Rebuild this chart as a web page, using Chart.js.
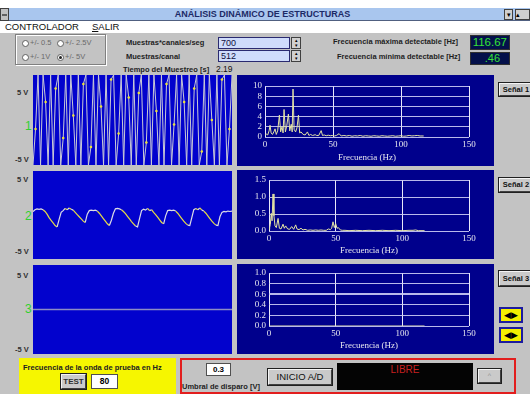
<!DOCTYPE html>
<html><head><meta charset="utf-8">
<script src="https://cdn.jsdelivr.net/npm/chart.js@4.4.1/dist/chart.umd.min.js"></script>
<style>
*{box-sizing:border-box}
body{margin:0;width:530px;height:394px;overflow:hidden;background:#c3c3c3;position:relative;font-family:'Liberation Sans',Arial,sans-serif;}
.a{position:absolute;white-space:nowrap}
.lbl{font-weight:bold;font-size:7.5px;color:#1e1e1e}
.vl{font-weight:bold;font-size:7.5px;color:#303030}
.num{font-size:12px;color:#30d030}
canvas{position:absolute;display:block}
.btn{position:absolute;background:#cacaca;border:1px solid;border-color:#f4f4f4 #404040 #404040 #f4f4f4;outline:1px solid #202020;text-align:center;white-space:nowrap;color:#101010}
.box{position:absolute;background:#fff;border:1px solid #505050;text-align:center;white-space:nowrap}
</style></head>
<body>
<div class="a" style="left:0;top:0;width:530px;height:8px;background:#fff"></div>
<div class="a" style="left:0;top:8px;width:530px;height:13px;background:#a9c6ee;border-bottom:1px solid #506080"></div>
<div class="a" style="left:0;top:8px;width:9px;height:13px;background:#c0c0c0;border:1px solid #404040"><div class="a" style="left:1px;top:5px;width:5px;height:2px;background:#606060"></div></div>
<div class="a" style="left:0;top:8px;width:525px;height:13px;line-height:13px;text-align:center;font-weight:bold;font-size:9px;color:#1c2a66">ANÁLISIS DINÁMICO DE ESTRUCTURAS</div>
<div class="a" style="left:504px;top:9px;width:9px;height:11px;background:#d0d0d0;border:1px solid #404040;font-size:7px;line-height:9px;text-align:center">▾</div>
<div class="a" style="left:515px;top:9px;width:15px;height:11px;background:#d0d0d0;border:1px solid #404040;font-size:7px;line-height:9px">▴</div>
<div class="a" style="left:0;top:21px;width:530px;height:12px;background:#fff"></div>
<div class="a" style="left:5px;top:21px;font-size:9.5px;line-height:12px;color:#101010">CONTROLADOR</div>
<div class="a" style="left:92px;top:21px;font-size:9.5px;line-height:12px;color:#101010"><u>S</u>ALIR</div>

<!-- radio group -->
<div class="a" style="left:15px;top:34px;width:91px;height:31px;border:1px solid #808080;box-shadow:inset 1px 1px 0 #fff,1px 1px 0 #fff"></div>
<div class="a" style="left:22px;top:40px;width:7px;height:7px;border-radius:50%;background:#fff;border:1px solid #606060"></div>
<div class="a" style="left:30px;top:38px;font-size:7.5px;color:#6a6a6a">+/- 0.5</div>
<div class="a" style="left:57px;top:40px;width:7px;height:7px;border-radius:50%;background:#fff;border:1px solid #606060"></div>
<div class="a" style="left:65px;top:38px;font-size:7.5px;color:#6a6a6a">+/- 2.5V</div>
<div class="a" style="left:22px;top:54px;width:7px;height:7px;border-radius:50%;background:#fff;border:1px solid #606060"></div>
<div class="a" style="left:30px;top:52px;font-size:7.5px;color:#6a6a6a">+/- 1V</div>
<div class="a" style="left:57px;top:54px;width:7px;height:7px;border-radius:50%;background:#fff;border:1px solid #606060"><div class="a" style="left:1px;top:1px;width:3px;height:3px;border-radius:50%;background:#202020"></div></div>
<div class="a" style="left:65px;top:52px;font-size:7.5px;color:#6a6a6a">+/- 5V</div>

<div class="a lbl" style="left:126px;top:38px">Muestras*canales/seg</div>
<div class="a lbl" style="left:126px;top:52px">Muestras/canal</div>
<div class="a" style="left:218px;top:37px;width:72px;height:12px;background:#cfdcfb;border:1px solid #2a2a70;font-size:9px;line-height:10px;padding-left:2px;color:#101040">700</div>
<div class="a" style="left:218px;top:50px;width:72px;height:12px;background:#cfdcfb;border:1px solid #2a2a70;font-size:9px;line-height:10px;padding-left:2px;color:#101040">512</div>
<div class="a" style="left:291px;top:37px;width:10px;height:12px;background:#d0d0d0;border:1px solid #404040;font-size:5px;line-height:5px;text-align:center">▴<br>▾</div>
<div class="a" style="left:291px;top:50px;width:10px;height:12px;background:#d0d0d0;border:1px solid #404040;font-size:5px;line-height:5px;text-align:center">▴<br>▾</div>
<div class="a lbl" style="left:123px;top:65px">Tiempo del Muestreo [s]</div>
<div class="a" style="left:216px;top:64px;font-size:8.5px;color:#101010">2.19</div>

<div class="a lbl" style="left:333px;top:37px">Frecuencia máxima detectable [Hz]</div>
<div class="a lbl" style="left:337px;top:52px">Frecuencia mínima detectable [Hz]</div>
<div class="a" style="left:470px;top:35px;width:40px;height:15px;background:#04104a;border:1px solid #303030;font-size:11.5px;line-height:13px;text-align:right;padding-right:2px;color:#36e236">116.67</div>
<div class="a" style="left:470px;top:52px;width:40px;height:13px;background:#04104a;border:1px solid #303030;font-size:11px;line-height:11px;text-align:right;padding-right:9px;color:#36e236">.46</div>

<!-- time charts labels -->
<div class="a vl" style="left:17px;top:88px">5 V</div>
<div class="a num" style="left:25px;top:119px">1</div>
<div class="a vl" style="left:15px;top:155px">-5 V</div>
<div class="a vl" style="left:17px;top:175px">5 V</div>
<div class="a num" style="left:25px;top:209px">2</div>
<div class="a vl" style="left:15px;top:247px">-5 V</div>
<div class="a vl" style="left:17px;top:271px">5 V</div>
<div class="a num" style="left:25px;top:302px">3</div>
<div class="a vl" style="left:15px;top:345px">-5 V</div>

<canvas id="t1" width="199" height="90" style="left:33px;top:75px;background:#0202cd"></canvas>
<canvas id="t2" width="199" height="88" style="left:33px;top:171px;background:#0202cd"></canvas>
<canvas id="t3" width="199" height="89" style="left:33px;top:265px;background:#0202cd"></canvas>
<canvas id="s1" width="257" height="91" style="left:237px;top:75px;background:#00008c"></canvas>
<canvas id="s2" width="257" height="89" style="left:237px;top:170px;background:#00008c"></canvas>
<canvas id="s3" width="257" height="90" style="left:237px;top:264px;background:#00008c"></canvas>

<div class="btn" style="left:499px;top:83px;width:34px;height:13px;font-size:7.5px;line-height:11px;font-weight:bold">Señal 1</div>
<div class="btn" style="left:499px;top:178px;width:34px;height:14px;font-size:7.5px;line-height:12px;font-weight:bold">Señal 2</div>
<div class="btn" style="left:499px;top:271px;width:34px;height:15px;font-size:7.5px;line-height:13px;font-weight:bold">Señal 3</div>
<div class="a" style="left:499px;top:307px;width:24px;height:16px;background:#f4f000;border:2px solid #1c1ca0;font-size:9px;line-height:12px;text-align:center;color:#000">◀▶</div>
<div class="a" style="left:499px;top:327px;width:24px;height:16px;background:#f4f000;border:2px solid #1c1ca0;font-size:9px;line-height:12px;text-align:center;color:#000">◀▶</div>

<!-- bottom -->
<div class="a" style="left:19px;top:358px;width:157px;height:36px;background:#f6f600"></div>
<div class="a lbl" style="left:23px;top:363px;color:#202020">Frecuencia de la onda de prueba en Hz</div>
<div class="btn" style="left:61px;top:374px;width:25px;height:15px;font-size:8px;line-height:13px;font-weight:bold;color:#303030">TEST</div>
<div class="box" style="left:91px;top:374px;width:27px;height:15px;font-size:8.5px;line-height:13px;font-weight:bold">80</div>

<div class="a" style="left:180px;top:358px;width:336px;height:36px;border:2px solid #e21e1e"></div>
<div class="box" style="left:206px;top:363px;width:25px;height:13px;font-size:8px;line-height:11px;font-weight:bold">0.3</div>
<div class="a lbl" style="left:182px;top:382px">Umbral de disparo [V]</div>
<div class="btn" style="left:268px;top:369px;width:64px;height:16px;font-size:9.5px;line-height:14px">INICIO A/D</div>
<div class="a" style="left:337px;top:363px;width:136px;height:27px;background:#040404"></div>
<div class="a" style="left:337px;top:364px;width:136px;text-align:center;font-size:10px;color:#c82020">LIBRE</div>
<div class="btn" style="left:478px;top:369px;width:23px;height:14px;font-size:7px;line-height:12px;color:#909090">^</div>

<script>
// ---- data ----
const timeSig1 = [-5,-1,5,-5,5,2,-5,5,-5,3.5,5,-5,-2,5,-5,5,0.5,-5,5,-5,4,5,-5,-3,5,-5,5,1.5,-5,5,-5,4.5,5,-5,-1.5,5,-5,5,2.5,-5,5,-5,3,5,-5,-2.5,5,-5,5,1,-5,5,-5,4,5,-5,-0.5,5,-5,5,2,-5,5,-5,3.5,5,-5,-3.5,5,-5,5,0,-5,5,-5,4.5,5,-5,-1,5];
const timeSig2 = [0.38,0.6,0.7,0.65,0.7,0.6,0.4,0.1,-0.3,-0.6,-0.9,-1.2,-1.35,-0.5,0.3,0.5,0.75,0.6,0.8,0.65,0.55,0.3,0.05,-0.2,-0.45,-0.7,-0.85,0.1,0.5,0.55,0.5,0.55,0.45,0.2,-0.1,-0.4,-0.7,-1.0,-1.2,-0.6,0.2,0.7,0.75,0.7,0.6,0.4,0.15,-0.15,-0.45,-0.75,-1.0,-1.25,-1.35,-0.4,0.5,0.65,0.55,0.75,0.5,0.6,0.3,0.05,-0.25,-0.55,-0.85,-1.0,-0.1,0.5,0.55,0.5,0.55,0.45,0.2,-0.1,-0.4,-0.7,-0.95,-1.15,-1.2,-0.3,0.6,0.75,0.6,0.8,0.55,0.45,0.2,-0.1,-0.4,-0.7,-0.95,-1.15,-1.2,-0.2,0.3,0.4,0.35,0.45,0.4,0.45];
const timeSig3 = [0,0,0,0,0,0,0,0,0,0];

const spec1Freq = [0,1,2,3,3.7,4.5,5.5,6.5,7.4,8.3,9.3,10.6,11.5,12.5,13.3,14,15,16,17.2,18.2,19.3,20,20.6,21.4,22.5,23.5,24.6,25.5,26.5,28,29.5,31.2,32.3,33.5,35,36.9,38,39.5,41.3,42.3,43.5,45,46.5,48,49.5,51,52.5,54.5,56,58,60,62,64,66,68,70,72,74,76,78,80,82,84,86,88,90,92,94,96,98,100,102,104,106,108,110,112,114,116.67];
const spec1Amp  = [0.3,0.6,0.4,1.2,2.3,0.8,0.5,1.0,1.6,0.5,1.2,4.3,1.0,2.0,0.8,5.4,1.0,2.2,4.5,1.2,2.5,1.0,9.4,1.5,1.0,1.8,4.3,0.8,1.0,0.5,0.4,1.0,0.3,0.5,0.3,0.45,0.3,0.3,1.25,0.3,0.4,0.25,0.35,0.25,0.3,0.2,0.3,0.65,0.2,0.3,0.2,0.3,0.15,0.25,0.2,0.3,0.15,0.25,0.2,0.15,0.25,0.2,0.15,0.25,0.2,0.15,0.2,0.25,0.15,0.2,0.25,0.15,0.2,0.3,0.2,0.25,0.3,0.2,0.2];

const spec2Freq = [0,0.5,1,1.7,2.3,3,3.7,4.5,5.5,6.8,7.8,9,10.5,11.5,12.5,14,15.5,17,18.5,20,21,22.5,24,25.5,27,29,31,33,35,37,39,41,43,44.5,46,47,48,49,50,51,52,53.5,55,57,60,65,70,75,80,85,90,95,100,105,108,110,112,116.67];
const spec2Amp  = [0.05,0.1,0.2,0.52,0.3,1.09,0.45,0.15,0.1,0.37,0.08,0.06,0.2,0.08,0.15,0.06,0.05,0.13,0.05,0.18,0.06,0.04,0.08,0.03,0.05,0.02,0.03,0.02,0.03,0.02,0.03,0.02,0.02,0.06,0.04,0.08,0.27,0.1,0.22,0.08,0.1,0.03,0.02,0.02,0.01,0.02,0.01,0.02,0.01,0.02,0.01,0.02,0.01,0.02,0.02,0.03,0.01,0.01];

const spec3Freq = [0,116.67];
const spec3Amp  = [0,0];

const freqTicks = [0,50,100,150];
const spec1Ticks = [0,2,4,6,8,10];
const spec2Ticks = [0,0.5,1.0,1.5];
const spec3Ticks = [0,0.2,0.4,0.6,0.8,1.0];
const xTitle = 'Frecuencia (Hz)';
const volt = {min:-5, max:5};

// ---- charts ----
Chart.defaults.animation = false;
const serif = 'Liberation Serif';

function timeChart(id, vals, opts) {
  const pts = vals.map((v,i)=>({x:i,y:v}));
  new Chart(document.getElementById(id), {
    type:'line',
    data:{datasets:[Object.assign({data:pts,borderWidth:1,tension:0,pointRadius:0}, opts)]},
    options:{responsive:false,devicePixelRatio:1,animation:false,events:[],
      layout:{padding:0},
      plugins:{legend:{display:false},tooltip:{enabled:false}},
      scales:{x:{type:'linear',display:false,min:0,max:vals.length-1},
              y:{display:false,min:volt.min,max:volt.max}}}
  });
}
timeChart('t1', timeSig1, {borderColor:'#c9c9d6',
  pointRadius:c=>Math.abs(c.raw.y)<4.8?1.3:0, pointBackgroundColor:'#ece23a', pointBorderWidth:0});
timeChart('t2', timeSig2, {borderColor:'#dcdce6', borderWidth:1.2,
  segment:{borderColor:c=>c.p1.parsed.y<c.p0.parsed.y-0.12?'#e6dc44':'#dcdce6'}});
timeChart('t3', timeSig3, {borderColor:'#8c8cc4', borderWidth:1.5});

function specChart(id, fr, am, yTicks, fmt, geo) {
  const pts = fr.map((f,i)=>({x:f,y:am[i]}));
  const tickFont = {family:serif,size:9};
  new Chart(document.getElementById(id), {
    type:'line',
    data:{datasets:[{data:pts,borderColor:'#e4e4a4',borderWidth:1,pointRadius:0,tension:0}]},
    options:{responsive:false,devicePixelRatio:1,animation:false,events:[],
      layout:{padding:{left:0,top:geo.top,right:25,bottom:0}},
      plugins:{legend:{display:false},tooltip:{enabled:false}},
      scales:{
        x:{type:'linear',min:freqTicks[0],max:freqTicks[freqTicks.length-1],
           afterBuildTicks:s=>{s.ticks=freqTicks.map(v=>({value:v}));},
           ticks:{color:'#e6e6ee',font:tickFont,padding:2,maxRotation:0,autoSkip:false},
           grid:{color:'#e8e8f8',drawTicks:false,lineWidth:1},
           border:{display:false},
           title:{display:true,text:xTitle,color:'#e6e6ee',font:tickFont,padding:{top:0,bottom:3}},
           afterFit:s=>{s.height=geo.xh;}},
        y:{min:yTicks[0],max:yTicks[yTicks.length-1],
           afterBuildTicks:s=>{s.ticks=yTicks.map(v=>({value:v}));},
           ticks:{color:'#e6e6ee',font:tickFont,padding:3,autoSkip:false,callback:v=>fmt(v)},
           grid:{color:c=>'rgba(205,205,245,0.9)',drawTicks:false,lineWidth:c=>(geo.thick!==undefined&&c.tick&&c.tick.value===geo.thick)?2:1},
           border:{display:false},
           afterFit:s=>{s.width=geo.yw;}}
      }}
  });
}
specChart('s1', spec1Freq, spec1Amp, spec1Ticks, v=>String(v), {top:11,xh:29,yw:28});
specChart('s2', spec2Freq, spec2Amp, spec2Ticks, v=>v.toFixed(1), {top:10,xh:28,yw:32});
specChart('s3', spec3Freq, spec3Amp, spec3Ticks, v=>v.toFixed(1), {top:9,xh:28,yw:32,thick:0.6});
</script>
</body></html>
